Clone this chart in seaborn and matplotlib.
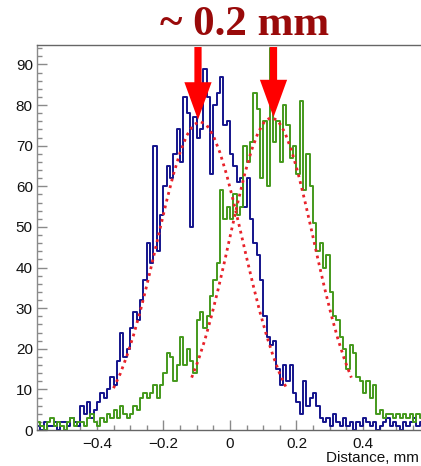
"""
Two shifted beam-profile histograms (blue / green) with gaussian fits
and red arrows marking the ~0.2 mm separation.
"""
import pandas as pd
import matplotlib
matplotlib.use("Agg")
import matplotlib.pyplot as plt  # noqa: E402
from matplotlib.ticker import MultipleLocator  # noqa: E402
import seaborn as sns  # noqa: E402

# ---------------------------------------------------------------------------
# Data, 0.01 mm bins from -0.60 to 0.60
# ---------------------------------------------------------------------------
bin_lo = -0.60
bin_width = 0.01

blue_counts = [
    # -0.60 .. -0.31
    1, 2, 1, 0, 2, 1, 1, 2, 0, 2, 2, 1, 3, 2, 1,
    6, 4, 7, 3, 5,
    7, 9, 8, 10, 13, 11, 17, 24, 18, 20,
    # -0.30 .. -0.01
    25, 29, 27, 32, 37, 46, 41, 70, 44, 53, 60, 65, 62, 68, 74,
    66, 82, 78, 50, 77, 72, 74, 89, 82, 63, 80, 83, 87, 75, 76,
    # 0.00 .. 0.31
    68, 65, 61, 62, 55, 62, 52, 46, 43, 37, 28, 23, 21, 22, 15, 11,
    16, 12, 16, 9, 7, 4, 12, 6, 8, 9, 6, 3, 2, 3, 1, 4,
    # 0.32 .. 0.59
    2, 1, 3, 1, 2, 0, 2, 1, 3, 2, 1, 2, 0, 1, 2, 3, 1, 2, 1, 0,
    2, 1, 2, 3, 1, 2, 1, 2,
]

green_counts = [
    # -0.60 .. -0.31
    1, 3, 2, 1, 0, 2, 3, 1, 2, 1, 0, 2, 3, 1, 2, 2, 1, 3, 4, 2,
    1, 3, 2, 4, 3,
    5, 3, 6, 4, 3,
    # -0.30 .. -0.01
    4, 6, 5, 8, 9, 8, 9, 11, 8, 11, 14, 19, 18, 12, 16,
    23, 16, 20, 17, 14, 27, 29, 25, 28, 33, 37, 41, 59, 52, 55,
    # 0.00 .. 0.24
    52, 58, 53, 55, 70, 66, 71, 83, 79, 62, 76, 60, 94, 71, 76,
    66, 80, 75, 67, 70, 63, 81, 59, 68, 60,
    # 0.25 .. 0.59
    51, 44, 46, 40, 43, 34, 28, 27, 23, 20, 15, 21, 19, 13, 12,
    9, 12, 8, 11, 4, 5, 3, 4, 4, 3, 4, 3, 4, 3, 4, 2, 4, 3, 4, 3,
]

# gaussian fit curves (sampled from the red dotted lines)
blue_fit_x = [-0.35, -0.33, -0.31, -0.29, -0.27, -0.25, -0.23, -0.21, -0.19,
              -0.17, -0.15, -0.13, -0.11, -0.09, -0.07, -0.05, -0.03, -0.01,
              0.01, 0.03, 0.05, 0.07, 0.09, 0.11, 0.13, 0.15, 0.17]
blue_fit_y = [10.3, 13.8, 18.2, 23.3, 29.1, 35.6, 42.5, 49.6, 56.5,
              62.9, 68.3, 72.5, 75.1, 76.0, 75.1, 72.5, 68.3, 62.9,
              56.5, 49.6, 42.5, 35.6, 29.1, 23.3, 18.2, 13.8, 10.3]

green_fit_x = [-0.115, -0.095, -0.075, -0.055, -0.035, -0.015, 0.005, 0.025,
               0.045, 0.065, 0.085, 0.105, 0.125, 0.145, 0.165, 0.185,
               0.205, 0.225, 0.245, 0.265, 0.285, 0.305, 0.325, 0.345, 0.365]
green_fit_y = [12.9, 17.2, 22.3, 28.2, 34.8, 41.9, 49.3, 56.5,
               63.2, 68.9, 73.3, 76.1, 77.0, 76.1, 73.3, 68.9,
               63.2, 56.5, 49.3, 41.9, 34.8, 28.2, 22.3, 17.2, 12.9]

# arrow tips (fitted peaks)
peak_x = [-0.096, 0.131]
peak_y = [76.4, 77.0]

BLUE = "#14148c"
GREEN = "#44991c"
FIT_RED = "#e8222a"
DARK_RED = "#990a0a"

# ---------------------------------------------------------------------------
sns.set_style("ticks")
plt.rcParams["font.family"] = ["Liberation Sans", "DejaVu Sans"]

edges = [round(bin_lo + bin_width * i, 3) for i in range(len(blue_counts) + 1)]
centers = [e + bin_width / 2 for e in edges[:-1]]
df = pd.DataFrame({"distance": centers, "blue": blue_counts, "green": green_counts})

fig = plt.figure(figsize=(4.21, 4.66), dpi=100)
ax = fig.add_axes([37 / 421, 36 / 466, 392.5 / 421, 385 / 466])

sns.histplot(data=df, x="distance", weights="blue", bins=edges, element="step",
             fill=False, color=BLUE, linewidth=1.4, ax=ax)
sns.histplot(data=df, x="distance", weights="green", bins=edges, element="step",
             fill=False, color=GREEN, linewidth=1.4, ax=ax)

sns.lineplot(x=blue_fit_x, y=blue_fit_y, color=FIT_RED, linewidth=2.0,
             linestyle=(0, (1, 1.5)), ax=ax)
sns.lineplot(x=green_fit_x, y=green_fit_y, color=FIT_RED, linewidth=2.0,
             linestyle=(0, (1, 1.5)), ax=ax)

y_top = 94.8
for px, py in zip(peak_x, peak_y):
    ax.annotate("", xy=(px, py), xytext=(px, y_top - 0.5),
                arrowprops=dict(arrowstyle="simple,head_length=1.35,head_width=0.98,tail_width=0.26",
                                color="#ff0000", lw=0, shrinkA=0, shrinkB=0,
                                mutation_scale=20),
                annotation_clip=False)

ax.set_xlim(-0.58, 0.60)
ax.set_ylim(0, y_top)
ax.set_xlabel("")
ax.set_ylabel("")

ax.xaxis.set_major_locator(MultipleLocator(0.2))
ax.xaxis.set_minor_locator(MultipleLocator(0.05))
ax.yaxis.set_major_locator(MultipleLocator(10))
ax.yaxis.set_minor_locator(MultipleLocator(2))
ax.set_xticks([-0.4, -0.2, 0, 0.2, 0.4])
ax.set_xticklabels(["\u22120.4", "\u22120.2", "0", "0.2", "0.4"])

ax.tick_params(axis="both", which="both", direction="in", color="#8a8a8a",
               width=1.0, labelsize=11, labelcolor="#111111")
ax.tick_params(axis="y", which="major", length=7.5, pad=3)
ax.tick_params(axis="y", which="minor", length=3.8)
ax.tick_params(axis="x", which="major", length=7.5, pad=5)
ax.tick_params(axis="x", which="minor", length=3.8)

for side in ["left", "bottom", "top", "right"]:
    ax.spines[side].set_color("#666666")
    ax.spines[side].set_linewidth(1.0)
ax.spines["left"].set_color("#8a8a8a")

fig.text(419 / 421, 1 - 462 / 466, "Distance, mm", ha="right", va="baseline",
         fontsize=11, color="#111111")
fig.text(245 / 421, 1 - 35 / 466, "~ 0.2 mm", ha="center", va="baseline",
         fontsize=31, fontweight="bold", color=DARK_RED,
         family=["Liberation Serif", "DejaVu Serif"])

fig.savefig("out.png", dpi=100)
plt.close(fig)
